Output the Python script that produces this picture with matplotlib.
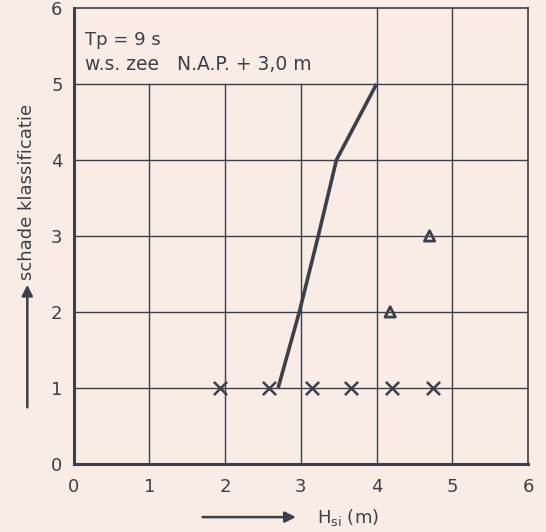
import matplotlib.pyplot as plt

plt.rcParams['font.family'] = ['DejaVu Sans']

# data
line_x = [2.7, 2.98, 3.23, 3.47, 4.0]
line_y = [1, 2, 3, 4, 5]
cross_x = [1.93, 2.58, 3.15, 3.66, 4.2, 4.74]
cross_y = [1, 1, 1, 1, 1, 1]
tri_x = [4.18, 4.7]
tri_y = [2, 3]
ticks = [0, 1, 2, 3, 4, 5, 6]

bg = '#f9ece4'
ink = '#3a404c'

fig = plt.figure(figsize=(5.46, 5.32), dpi=100, facecolor=bg)
ax = fig.add_axes([0.135, 0.128, 0.832, 0.857], facecolor=bg)

# grid, left open in the box with the text
for x in ticks[1:-1]:
    top = 6 if x >= 4 else 5
    ax.plot([x, x], [0, top], color=ink, lw=1.0, zorder=1)
for y in ticks[1:-1]:
    ax.plot([0, 6], [y, y], color=ink, lw=1.0, zorder=1)

ax.plot(line_x, line_y, color=ink, lw=2.6, solid_capstyle='butt', zorder=3)
ax.scatter(cross_x, cross_y, marker='x', s=90, color=ink, linewidths=1.8, zorder=4)
ax.scatter(tri_x, tri_y, marker='^', s=55, facecolors='none', edgecolors=ink, linewidths=2, zorder=4)

ax.set_xlim(0, 6)
ax.set_ylim(0, 6)
ax.set_xticks(ticks)
ax.set_yticks(ticks)
ax.tick_params(length=0, labelsize=13, colors=ink)
ax.tick_params(axis='x', pad=10)
ax.tick_params(axis='y', pad=8)
for side in ['left', 'bottom']:
    ax.spines[side].set_linewidth(2.2)
for side in ['top', 'right']:
    ax.spines[side].set_linewidth(1.2)
for s in ax.spines.values():
    s.set_color(ink)

ax.text(0.15, 5.58, 'Tp = 9 s', fontsize=13, color=ink, va='center')
ax.text(0.15, 5.25, 'w.s. zee   N.A.P. + 3,0 m', fontsize=13.5, color=ink, va='center')

# axis titles with arrows
fig.text(0.05, 0.64, 'schade klassificatie', rotation=90, fontsize=13, color=ink,
         ha='center', va='center')
fig.add_artist(plt.Annotation('', xy=(0.05, 0.47), xytext=(0.05, 0.229),
                              xycoords='figure fraction',
                              arrowprops=dict(arrowstyle='-|>', color=ink, lw=1.8,
                                              mutation_scale=16)))
fig.add_artist(plt.Annotation('', xy=(0.547, 0.028), xytext=(0.366, 0.028),
                              xycoords='figure fraction',
                              arrowprops=dict(arrowstyle='-|>', color=ink, lw=1.8,
                                              mutation_scale=16)))
fig.text(0.58, 0.028, r'H$_{\mathregular{si}}$ (m)', fontsize=13, color=ink, va='center')

fig.savefig('out.png', dpi=100, facecolor=bg)
